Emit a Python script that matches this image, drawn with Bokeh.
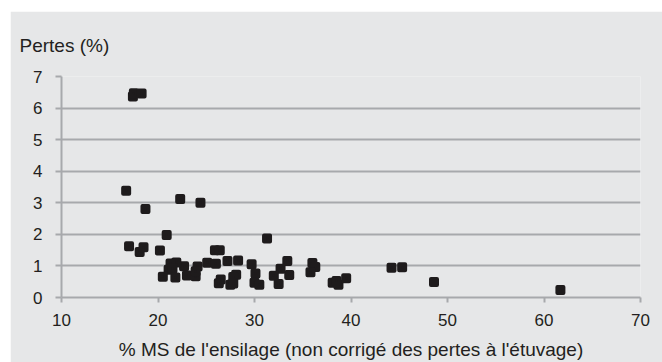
from bokeh.plotting import figure
from bokeh.models import Range1d, Title, FixedTicker, ColumnDataSource
from bokeh.embed import file_html
from bokeh.resources import INLINE

# Data (x = % MS, y = pertes %)
ms_x = [17.4, 17.5, 18.3, 16.7, 18.7, 22.3, 24.4, 20.9, 17.0, 18.1, 18.5, 20.2,
        31.3, 25.9, 26.4, 25.1, 26.0, 27.2, 28.3, 29.7, 33.4, 36.0, 36.3, 35.8,
        33.6, 32.7, 32.0, 32.5, 30.1, 30.0, 30.5, 28.1, 27.8, 27.5, 27.8, 26.5,
        26.3, 22.7, 21.9, 21.3, 21.1, 21.5, 21.8, 20.5, 23.0, 23.9, 24.1, 23.9,
        38.1, 38.7, 38.5, 39.5, 44.2, 45.3, 48.6, 61.7]
pertes_y = [6.37, 6.47, 6.46, 3.38, 2.80, 3.12, 3.00, 1.98, 1.62, 1.44, 1.59, 1.49,
            1.87, 1.50, 1.50, 1.10, 1.07, 1.16, 1.17, 1.05, 1.16, 1.09, 0.97, 0.80,
            0.71, 0.91, 0.69, 0.43, 0.76, 0.47, 0.40, 0.72, 0.65, 0.40, 0.44, 0.57,
            0.45, 0.99, 1.11, 1.08, 0.88, 0.92, 0.63, 0.66, 0.70, 0.67, 0.98, 0.83,
            0.47, 0.40, 0.52, 0.61, 0.94, 0.96, 0.49, 0.24]
x_ticks = [10, 20, 30, 40, 50, 60, 70]
y_ticks = [0, 1, 2, 3, 4, 5, 6, 7]
y_title = "Pertes (%)"
x_title = "% MS de l'ensilage (non corrigé des pertes à l'étuvage)"

BG = "#e6e7e8"
GRID = "#a7a9ac"
TXT = "#231f20"
FONT = "Liberation Sans"

p = figure(width=652, height=351, output_backend="svg", toolbar_location=None,
           x_range=Range1d(10, 70), y_range=Range1d(0, 7),
           min_border_left=51, min_border_right=22, min_border_top=64, min_border_bottom=64)
p.margin = (11, 0, 0, 10)
p.background_fill_color = BG
p.border_fill_color = BG
p.outline_line_color = None

p.title = Title(text=y_title, align="left", offset=-42, standoff=42,
                text_font=FONT, text_font_size="19px", text_font_style="normal",
                text_color=TXT)

src = ColumnDataSource(dict(x=ms_x, y=pertes_y))
p.scatter("x", "y", source=src, marker="square", size=6, fill_color="#1e1b1c",
          line_color="#1e1b1c", line_width=4, line_join="round")

p.xgrid.grid_line_color = None
p.ygrid.grid_line_color = GRID
p.ygrid.grid_line_width = 2
p.xaxis.ticker = FixedTicker(ticks=x_ticks)
p.yaxis.ticker = FixedTicker(ticks=y_ticks)

for ax in (p.xaxis[0], p.yaxis[0]):
    ax.axis_line_color = GRID
    ax.axis_line_width = 2
    ax.major_tick_line_color = GRID
    ax.major_tick_line_width = 2
    ax.major_tick_in = 0
    ax.minor_tick_line_color = None
    ax.major_label_text_font = FONT
    ax.major_label_text_font_size = "17px"
    ax.major_label_text_color = TXT

p.xaxis.major_tick_out = 5
p.yaxis.major_tick_out = 6
p.xaxis.major_label_standoff = 11
p.yaxis.major_label_standoff = 13
p.xaxis.axis_label = x_title
p.xaxis.axis_label_text_font = FONT
p.xaxis.axis_label_text_font_size = "19px"
p.xaxis.axis_label_text_font_style = "normal"
p.xaxis.axis_label_text_color = TXT
p.xaxis.axis_label_standoff = 10

open("out.html", "w").write(file_html(p, INLINE))
